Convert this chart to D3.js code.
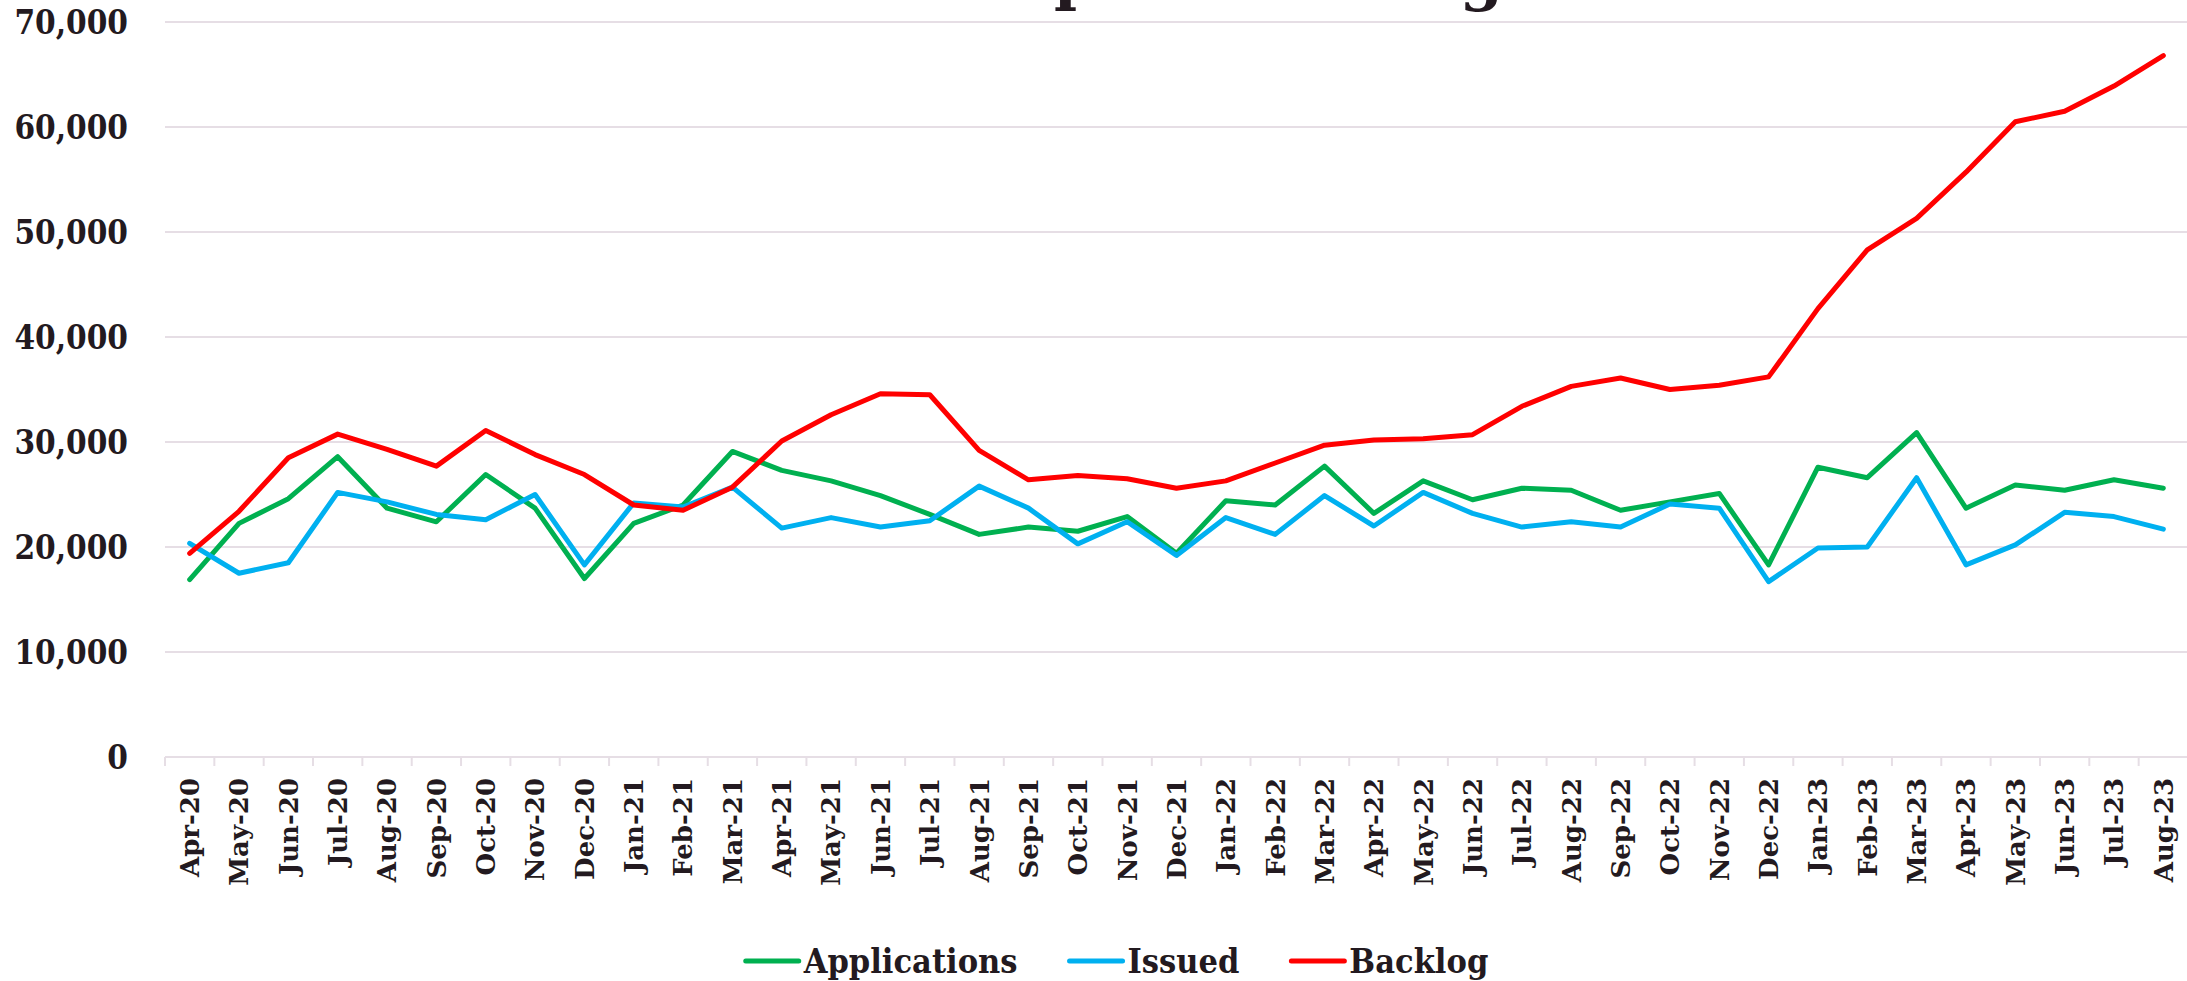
<!DOCTYPE html>
<html>
<head>
<meta charset="utf-8">
<script src="https://cdn.jsdelivr.net/npm/d3@7"></script>
<style>
  body { margin: 0; background: #fff; }
  .yLabel { font-family: "DejaVu Serif Condensed", "DejaVu Serif", serif; font-stretch: condensed; font-weight: bold; font-size: 33px; fill: #231a20; }
  .xLabel { font-family: "DejaVu Serif", serif; font-weight: bold; font-size: 26px; fill: #231a20; }
  .legendText { font-family: "DejaVu Serif Condensed", "DejaVu Serif", serif; font-stretch: condensed; font-weight: bold; font-size: 34px; fill: #231a20; }
  .title { font-family: "DejaVu Serif", serif; font-weight: bold; font-size: 62px; fill: #231a20; }
</style>
</head>
<body>
<div id="chart"></div>
<script>
// Data
var months = ["Apr-20", "May-20", "Jun-20", "Jul-20", "Aug-20", "Sep-20", "Oct-20", "Nov-20", "Dec-20",
  "Jan-21", "Feb-21", "Mar-21", "Apr-21", "May-21", "Jun-21", "Jul-21", "Aug-21", "Sep-21", "Oct-21", "Nov-21", "Dec-21",
  "Jan-22", "Feb-22", "Mar-22", "Apr-22", "May-22", "Jun-22", "Jul-22", "Aug-22", "Sep-22", "Oct-22", "Nov-22", "Dec-22",
  "Jan-23", "Feb-23", "Mar-23", "Apr-23", "May-23", "Jun-23", "Jul-23", "Aug-23"];

var applications = [16900, 22250, 24600, 28600, 23700, 22400, 26900, 23700, 17000,
  22250, 24000, 29100, 27300, 26300, 24900, 23100, 21200, 21900, 21500, 22900, 19400,
  24400, 24000, 27700, 23200, 26300, 24500, 25600, 25400, 23500, 24300, 25100, 18300,
  27600, 26600, 30900, 23700, 25900, 25400, 26400, 25600];

var issued = [20350, 17500, 18500, 25200, 24300, 23100, 22600, 25000, 18300,
  24200, 23800, 25700, 21800, 22800, 21900, 22500, 25800, 23700, 20300, 22400, 19200,
  22800, 21200, 24900, 22000, 25200, 23200, 21900, 22400, 21900, 24100, 23700, 16700,
  19900, 20000, 26600, 18300, 20200, 23300, 22900, 21700];

var backlog = [19400, 23400, 28500, 30750, 29300, 27700, 31100, 28800, 26900,
  24000, 23500, 25700, 30100, 32600, 34600, 34500, 29200, 26400, 26800, 26500, 25600,
  26300, 28000, 29700, 30200, 30300, 30700, 33400, 35300, 36100, 35000, 35400, 36200,
  42700, 48300, 51300, 55700, 60500, 61500, 63900, 66800];

var yTicks = [0, 10000, 20000, 30000, 40000, 50000, 60000, 70000];

var seriesNames = ["Applications", "Issued", "Backlog"];
var seriesColors = ["#00b050", "#00b0f0", "#ff0000"];
var seriesValues = [applications, issued, backlog];

// Chart viewport
var svgWidth = 2187;
var svgHeight = 981;
var plot = { left: 165, right: 2188, top: 22, bottom: 757 };

var svg = d3.select("#chart")
  .append("svg")
  .attr("width", svgWidth)
  .attr("height", svgHeight);

// Scales
var xScale = d3.scaleBand()
  .domain(months)
  .range([plot.left, plot.right])
  .padding(0);
var yScale = d3.scaleLinear()
  .domain([0, 70000])
  .range([plot.bottom, plot.top]);

var gridColor = "#e6dee5";

// Horizontal gridlines
svg.append("g")
  .selectAll("line")
  .data(yTicks.filter(d => d > 0))
  .enter()
  .append("line")
  .attr("x1", plot.left)
  .attr("x2", svgWidth)
  .attr("y1", d => yScale(d))
  .attr("y2", d => yScale(d))
  .attr("stroke", gridColor)
  .attr("stroke-width", 2);

// y-axis labels
svg.append("g")
  .selectAll("text")
  .data(yTicks)
  .enter()
  .append("text")
  .classed("yLabel", true)
  .attr("x", 128)
  .attr("y", d => yScale(d))
  .attr("dy", "0.36em")
  .attr("text-anchor", "end")
  .text(d => d3.format(",")(d));

// x-axis with band ticks
var bottomAxis = d3.axisBottom(xScale).tickSize(0).tickFormat("");
var xAxis = svg.append("g")
  .attr("transform", `translate(0, ${plot.bottom})`)
  .call(bottomAxis);
xAxis.select(".domain")
  .attr("stroke", gridColor)
  .attr("stroke-width", 2)
  .attr("d", `M${plot.left},0H${svgWidth}`);

svg.append("g")
  .selectAll("line")
  .data(months)
  .enter()
  .append("line")
  .attr("x1", d => xScale(d))
  .attr("x2", d => xScale(d))
  .attr("y1", plot.bottom)
  .attr("y2", plot.bottom + 9)
  .attr("stroke", gridColor)
  .attr("stroke-width", 2);

// rotated month labels
svg.append("g")
  .selectAll("text")
  .data(months)
  .enter()
  .append("text")
  .classed("xLabel", true)
  .attr("text-anchor", "end")
  .attr("transform", d => `translate(${xScale(d) + xScale.bandwidth() / 2}, 778) rotate(-90)`)
  .attr("dy", "0.36em")
  .text(d => d);

// Lines
var line = d3.line()
  .x((d, i) => xScale(months[i]) + xScale.bandwidth() / 2)
  .y(d => yScale(d));

seriesValues.forEach(function(values, i) {
  svg.append("path")
    .datum(values)
    .attr("fill", "none")
    .attr("stroke", seriesColors[i])
    .attr("stroke-width", 5)
    .attr("stroke-linejoin", "round")
    .attr("stroke-linecap", "round")
    .attr("d", line);
});

// Title, sitting above the top edge as in the reference: only descenders show
svg.append("text")
  .classed("title", true)
  .attr("x", 899)
  .attr("y", -2)
  .attr("text-anchor", "start")
  .text("Passport Backlog");

// Legend
var legend = svg.append("g");
var items = legend.selectAll("g")
  .data(seriesNames)
  .enter()
  .append("g");
items.append("line")
  .attr("x1", 2)
  .attr("x2", 55)
  .attr("y1", 961)
  .attr("y2", 961)
  .attr("stroke", (d, i) => seriesColors[i])
  .attr("stroke-width", 5)
  .attr("stroke-linecap", "round");
items.append("text")
  .classed("legendText", true)
  .attr("x", 60)
  .attr("y", 973)
  .text(d => d);

var offset = 0;
var widths = [];
items.each(function() {
  widths.push(60 + d3.select(this).select("text").node().getComputedTextLength());
});
var total = d3.sum(widths) + 50 * (widths.length - 1);
var start = 1116 - total / 2;
items.attr("transform", function(d, i) {
  var x = start + offset;
  offset += widths[i] + 50;
  return `translate(${x}, 0)`;
});
</script>
</body>
</html>
